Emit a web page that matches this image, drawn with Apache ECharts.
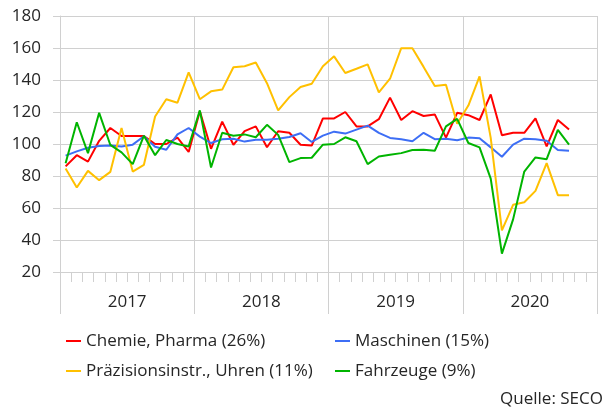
<!DOCTYPE html>
<html>
<head>
<meta charset="utf-8">
<script src="https://cdn.jsdelivr.net/npm/echarts@6/dist/echarts.min.js"></script>
<style>
  html, body { margin: 0; padding: 0; background: #fff; }
  #main { width: 604px; height: 412px; }
</style>
</head>
<body>
<div id="main"></div>
<script>
  // Exporte nach Branchen, Index (monatlich, Jan 2017 - Okt 2020)
  const months = []
  ;['2017', '2018', '2019', '2020'].forEach((y) => {
    for (let m = 1; m <= 12; m++) months.push(y + '-' + (m < 10 ? '0' + m : m))
  })

  const chartData = {
    chemie: [86, 93, 89, 102, 110, 105, 105, 105, 100, 100, 104, 95,
      120.5, 97, 114, 99.5, 108, 111, 98, 108, 107, 99.5, 99, 116,
      116, 120, 111, 111, 115.5, 129, 115, 120.5, 117.5, 118.5, 104, 119.5,
      118, 115, 131, 105.5, 107, 107, 116, 98.5, 115, 109],
    maschinen: [92.7, 95.4, 97.7, 98.7, 99, 98.5, 99.6, 104.8, 98.3, 96.4, 106, 110,
      104.6, 100.6, 103, 103.3, 101.5, 102.7, 102.7, 103.3, 104.4, 106.7, 101.3, 105.2,
      107.7, 106.5, 109, 111.5, 106.9, 103.8, 103, 101.7, 107, 103, 103.3, 102.3,
      104, 103.6, 97.9, 92, 99.6, 103.3, 103, 102, 96.2, 95.8],
    praezision: [84.7, 72.8, 83.2, 77.4, 82.6, 110, 82.8, 87, 117.2, 128, 125.8, 144.8,
      128, 132.9, 134, 148, 148.6, 150.9, 138, 121, 129.3, 135.6, 137.7, 148.6,
      154.8, 144.4, 147, 149.8, 132.3, 140.8, 159.9, 159.9, 148.2, 136.2, 137, 112.6,
      124, 142.3, 103.8, 46, 62, 63.6, 70.7, 88, 68, 68],
    fahrzeuge: [88, 113.6, 94.3, 119.5, 99.4, 94.8, 87.4, 105.2, 93, 102.5, 100, 98.5,
      121, 85.3, 107, 105.2, 106, 104.2, 112, 105.7, 88.7, 91.2, 91.4, 99.6,
      100, 104.2, 101.7, 87.4, 92.2, 93.3, 94.3, 96.2, 96.4, 95.8, 111, 115.7,
      100.6, 97.9, 78.4, 31.5, 52.9, 82.8, 91.6, 90.5, 108.8, 99.6]
  }

  const seriesDef = [
    { name: 'Chemie, Pharma (26%)', key: 'chemie', color: '#FF0000' },
    { name: 'Maschinen (15%)', key: 'maschinen', color: '#3D6EF5' },
    { name: 'Präzisionsinstr., Uhren (11%)', key: 'praezision', color: '#FFC000' },
    { name: 'Fahrzeuge (9%)', key: 'fahrzeuge', color: '#00B400' }
  ]

  const font = '"Open Sans", sans-serif'
  const gridColor = '#D0D0D0'
  const legendBase = {
    orient: 'vertical',
    top: 332,
    padding: 0,
    itemWidth: 15,
    itemHeight: 2,
    itemGap: 12,
    icon: 'rect',
    selectedMode: false,
    textStyle: { fontFamily: font, fontSize: 17, color: '#262626', lineHeight: 18 }
  }

  let myChart = echarts.init(document.getElementById('main'))
  myChart.setOption({
    animation: false,
    textStyle: { fontFamily: font },
    grid: { left: 60, right: 7, top: 16, bottom: 140 },
    legend: [
      { ...legendBase, left: 66, data: [seriesDef[0].name, seriesDef[2].name] },
      { ...legendBase, left: 335, data: [seriesDef[1].name, seriesDef[3].name] }
    ],
    graphic: [{
      type: 'text', right: 1, top: 391,
      style: { text: 'Quelle: SECO', fontFamily: font, fontSize: 17, fill: '#262626' }
    }],
    xAxis: [
      {
        type: 'category',
        data: months,
        boundaryGap: true,
        axisLine: { lineStyle: { color: gridColor, width: 1 } },
        axisTick: { show: true, interval: 0, length: 10, lineStyle: { color: gridColor } },
        axisLabel: { show: false },
        splitLine: { show: false }
      },
      {
        type: 'category',
        data: ['2017', '2018', '2019', '2020'],
        position: 'bottom',
        boundaryGap: true,
        axisLine: { show: false },
        axisTick: { show: true, interval: 0, length: 42, lineStyle: { color: gridColor } },
        axisLabel: { show: true, interval: 0, margin: 22, fontSize: 17, color: '#262626', fontFamily: font },
        splitLine: { show: true, interval: 0, lineStyle: { color: gridColor } }
      }
    ],
    yAxis: {
      type: 'value',
      min: 20,
      max: 180,
      interval: 20,
      axisLine: { show: true, lineStyle: { color: gridColor } },
      axisTick: { show: true, length: 7, lineStyle: { color: gridColor } },
      axisLabel: { margin: 19, fontSize: 17, color: '#262626', fontFamily: font },
      splitLine: { lineStyle: { color: gridColor, width: 1 } }
    },
    series: seriesDef.map((s) => ({
      name: s.name,
      type: 'line',
      xAxisIndex: 0,
      data: chartData[s.key],
      color: s.color,
      symbol: 'none',
      lineStyle: { width: 2 }
    }))
  })
</script>
</body>
</html>
